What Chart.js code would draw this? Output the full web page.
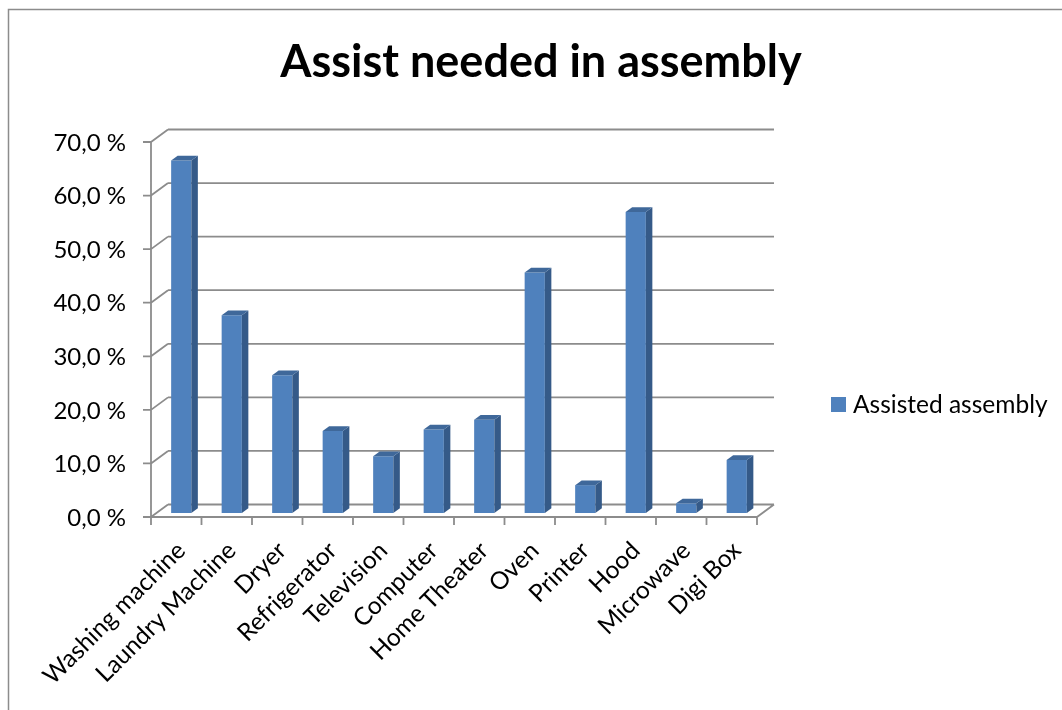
<!DOCTYPE html>
<html>
<head>
<meta charset="utf-8">
<script src="https://cdn.jsdelivr.net/npm/chart.js@4"></script>
<style>
  body { margin: 0; background: #fff; }
  #wrap { width: 1062px; height: 710px; }
</style>
</head>
<body>
<div id="wrap"><canvas id="myChart" width="1062" height="710"></canvas></div>
<script>
const categories = ["Washing machine", "Laundry Machine", "Dryer", "Refrigerator", "Television", "Computer",
    "Home Theater", "Oven", "Printer", "Hood", "Microwave", "Digi Box"];
const assisted = [65.8, 36.9, 25.7, 15.3, 10.6, 15.6, 17.4, 44.9, 5.2, 56.2, 1.8, 9.9];
const yTicks = [0, 10, 20, 30, 40, 50, 60, 70];
const seriesName = "Assisted assembly";
const chartTitle = "Assist needed in assembly";

const FONT = "Lato, 'Noto Sans', sans-serif";
const GRID = "#8c8c8c";
const FRONT = "#4f81bd";
const SIDE = "#355a88";
const TOP = "#3f689a";

// offsets of the front frame and the back wall from the plane the bars sit in
const front = { dx: -5, dy: 4 };
const back = { dx: 12, dy: -8.5 };
const bar3d = { dx: 6.5, dy: -4.7 };

const frame3d = {
    id: "frame3d",
    beforeDraw(chart) {
        const ctx = chart.ctx;
        ctx.save();
        ctx.fillStyle = "#fff";
        ctx.fillRect(0, 0, chart.width, chart.height);
        ctx.strokeStyle = GRID;
        ctx.lineWidth = 1.5;
        ctx.strokeRect(8.5, 9.5, chart.width + 20, chart.height + 20);
        ctx.restore();
    },
    beforeDatasetsDraw(chart) {
        const ctx = chart.ctx;
        const area = chart.chartArea;
        const y = chart.scales.y;
        const fl = area.left + front.dx;
        const fr = area.right + front.dx;
        const bl = area.left + back.dx;
        const br = area.right + back.dx;
        ctx.save();
        ctx.strokeStyle = GRID;
        ctx.lineWidth = 1.8;
        ctx.beginPath();
        yTicks.forEach((v) => {
            const py = y.getPixelForValue(v);
            // back wall gridline
            ctx.moveTo(bl, py + back.dy);
            ctx.lineTo(br, py + back.dy);
            // side edge to the front axis
            ctx.moveTo(fl, py + front.dy);
            ctx.lineTo(bl, py + back.dy);
            // tick mark
            ctx.moveTo(fl - 8, py + front.dy);
            ctx.lineTo(fl, py + front.dy);
        });
        const top = y.getPixelForValue(yTicks[yTicks.length - 1]) + front.dy;
        const bottom = y.getPixelForValue(0) + front.dy;
        ctx.moveTo(fl, top);
        ctx.lineTo(fl, bottom);
        // floor: front edge and right edge
        ctx.moveTo(fl, bottom);
        ctx.lineTo(fr, bottom);
        ctx.lineTo(br, y.getPixelForValue(0) + back.dy);
        // category ticks
        const step = (area.right - area.left) / categories.length;
        for (let i = 0; i <= categories.length; i++) {
            const px = fl + i * step;
            ctx.moveTo(px, bottom);
            ctx.lineTo(px, bottom + 8);
        }
        ctx.stroke();
        ctx.restore();
    },
    afterDatasetsDraw(chart) {
        const ctx = chart.ctx;
        ctx.save();
        chart.getDatasetMeta(0).data.forEach((bar) => {
            const l = bar.x - bar.width / 2;
            const r = bar.x + bar.width / 2;
            ctx.fillStyle = SIDE;
            ctx.beginPath();
            ctx.moveTo(r, bar.y);
            ctx.lineTo(r + bar3d.dx, bar.y + bar3d.dy);
            ctx.lineTo(r + bar3d.dx, bar.base + bar3d.dy);
            ctx.lineTo(r, bar.base);
            ctx.closePath();
            ctx.fill();
            ctx.fillStyle = TOP;
            ctx.beginPath();
            ctx.moveTo(l, bar.y);
            ctx.lineTo(l + bar3d.dx, bar.y + bar3d.dy);
            ctx.lineTo(r + bar3d.dx, bar.y + bar3d.dy);
            ctx.lineTo(r, bar.y);
            ctx.closePath();
            ctx.fill();
        });
        ctx.restore();
    },
    afterDraw(chart) {
        const ctx = chart.ctx;
        ctx.save();
        ctx.fillStyle = "#000";
        ctx.textAlign = "center";
        ctx.textBaseline = "alphabetic";
        ctx.font = "bold 45px " + FONT;
        ctx.fillText(chartTitle, 541, 77);
        // legend
        ctx.fillStyle = FRONT;
        ctx.fillRect(831, 397, 15, 15);
        ctx.fillStyle = "#000";
        ctx.textAlign = "left";
        ctx.font = "24.5px " + FONT;
        ctx.fillText(chart.data.datasets[0].label, 853, 413);
        ctx.restore();
    },
};

new Chart(document.getElementById("myChart"), {
    type: "bar",
    data: {
        labels: categories,
        datasets: [
            {
                label: seriesName,
                data: assisted,
                backgroundColor: FRONT,
                borderWidth: 0,
                barPercentage: 0.4,
                categoryPercentage: 1,
            },
        ],
    },
    options: {
        responsive: false,
        animation: false,
        layout: { padding: { top: 138, right: 300, left: 0, bottom: 0 } },
        plugins: {
            legend: { display: false },
            title: { display: false },
            tooltip: { enabled: false },
        },
        scales: {
            x: {
                grid: { display: false },
                border: { display: false },
                ticks: {
                    autoSkip: false,
                    minRotation: 45,
                    maxRotation: 45,
                    padding: 15,
                    color: "#000",
                    font: { family: FONT, size: 24.5 },
                },
                afterFit(scale) {
                    scale.height = 197;
                },
            },
            y: {
                min: 0,
                max: 70,
                grid: { display: false },
                border: { display: false },
                ticks: {
                    stepSize: 10,
                    padding: 22,
                    labelOffset: 5,
                    color: "#000",
                    font: { family: FONT, size: 24 },
                    callback: (v) => v.toFixed(1).replace(".", ",") + " %",
                },
                afterFit(scale) {
                    scale.width = 156;
                },
            },
        },
    },
    plugins: [frame3d],
});
</script>
</body>
</html>
